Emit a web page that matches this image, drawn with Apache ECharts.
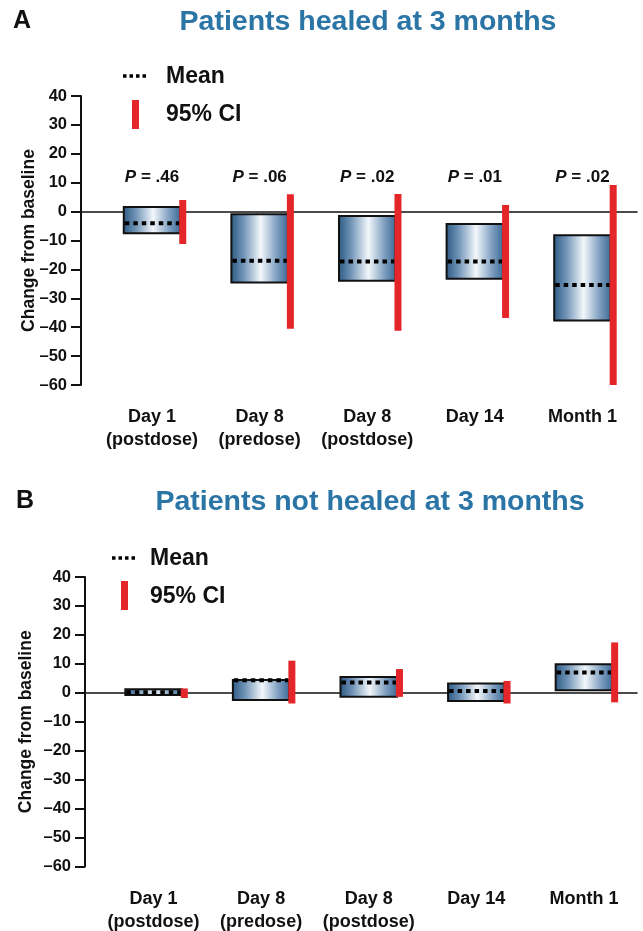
<!DOCTYPE html>
<html>
<head>
<meta charset="utf-8">
<script src="https://cdn.jsdelivr.net/npm/echarts@6/dist/echarts.min.js"></script>
<style>html,body{margin:0;padding:0;background:#fff}#c{width:643px;height:931px}</style>
</head>
<body>
<div id="c"></div>
<script>
// ---- data ----
const categories = ['Day 1\n(postdose)', 'Day 8\n(predose)', 'Day 8\n(postdose)', 'Day 14', 'Month 1'];
const yTicks = [-60, -50, -40, -30, -20, -10, 0, 10, 20, 30, 40];

// Panel A: patients healed at 3 months
const healedBoxHigh = [1.6, -0.9, -1.5, -4.3, -8.2];
const healedBoxLow  = [-7.5, -24.5, -23.9, -23.2, -37.7];
const healedMean    = [-4.0, -17.0, -17.3, -17.3, -25.4];
const healedCiHigh  = [4.0, 6.0, 6.1, 2.3, 9.2];
const healedCiLow   = [-11.2, -40.5, -41.2, -36.8, -60.0];
const healedP       = ['.46', '.06', '.02', '.01', '.02'];

// Panel B: patients not healed at 3 months
const notHealedBoxHigh = [1.2, 4.4, 5.5, 3.2, 9.9];
const notHealedBoxLow  = [-0.8, -2.5, -1.4, -2.8, 0.9];
const notHealedMean    = [0.2, 4.3, 3.6, 0.6, 7.0];
const notHealedCiHigh  = [1.5, 11.1, 8.2, 4.1, 17.4];
const notHealedCiLow   = [-1.8, -3.7, -1.4, -3.7, -3.3];

// ---- styling ----
const FONT = "'Liberation Sans', Arial, Helvetica, sans-serif";
const BLUE_TITLE = '#2a74a6';
const RED = '#e42529';
const INK = '#111';

function buildData(hi, lo, mean, ch, cl) {
  return categories.map((c, i) => [i, hi[i], lo[i], mean[i], ch[i], cl[i]]);
}

function boxGradient() {
  return new echarts.graphic.LinearGradient(0, 0, 1, 0, [
    { offset: 0, color: '#2b5882' },
    { offset: 0.22, color: '#6f93b6' },
    { offset: 0.52, color: '#f3f7fb' },
    { offset: 0.8, color: '#7c9dbf' },
    { offset: 1, color: '#3a6792' }
  ]);
}

function makeRenderItem(pLabels) {
  return function (params, api) {
    const i = api.value(0);
    const hi = api.coord([i, api.value(1)]);
    const lo = api.coord([i, api.value(2)]);
    const mn = api.coord([i, api.value(3)]);
    const ch = api.coord([i, api.value(4)]);
    const cl = api.coord([i, api.value(5)]);
    const zero = api.coord([i, 0]);
    const p = pLabels ? pLabels[params.dataIndex] : '';
    const band = api.size([1, 0])[0];
    const w = band * 0.525;
    const x0 = hi[0] - w / 2;
    const children = [
      {
        type: 'rect',
        shape: { x: x0, y: hi[1], width: w, height: Math.max(lo[1] - hi[1], 1) },
        style: { fill: boxGradient(), stroke: INK, lineWidth: 2 }
      },
      {
        type: 'line',
        shape: { x1: x0 + 1, y1: mn[1], x2: x0 + w - 1, y2: mn[1] },
        style: { stroke: '#000', lineWidth: 4, lineDash: [4.5, 4] }
      },
      {
        type: 'rect',
        shape: { x: x0 + w - 1, y: ch[1], width: 7, height: cl[1] - ch[1] },
        style: { fill: RED }
      }
    ];
    if (p) {
      children.push({
        type: 'text',
        x: hi[0], y: zero[1] - 34,
        style: {
          text: '{i|P} = ' + p,
          align: 'center', verticalAlign: 'middle',
          fontFamily: FONT, fontWeight: 'bold', fontSize: 17, fill: INK,
          rich: { i: { fontStyle: 'italic', fontWeight: 'bold', fontSize: 17, fontFamily: FONT, fill: INK } }
        }
      });
    }
    return { type: 'group', children };
  };
}

function yAxisCfg(gridIndex, nameGap, nameSize) {
  return {
    type: 'value', gridIndex, min: -60, max: 40, interval: 10,
    name: 'Change from baseline', nameLocation: 'middle', nameGap,
    nameMoveOverlap: false,
    nameTextStyle: { fontFamily: FONT, fontWeight: 'bold', fontSize: nameSize, color: INK },
    axisLine: { show: true, onZero: false, lineStyle: { color: INK, width: 2 } },
    axisTick: { show: true, length: 10, lineStyle: { color: INK, width: 2 } },
    axisLabel: {
      margin: 14, fontFamily: FONT, fontWeight: 'bold', fontSize: 16.5, color: INK,
      customValues: yTicks,
      formatter: v => (v < 0 ? '\u2013' + (-v) : String(v))
    },
    splitLine: { show: false }
  };
}

function xAxisLine(gridIndex, min, max) {
  return {
    type: 'value', gridIndex, min, max, position: 'bottom',
    axisLine: { show: true, onZero: true, lineStyle: { color: INK, width: 1.5 } },
    axisTick: { show: false }, axisLabel: { show: false }, splitLine: { show: false }
  };
}
function xAxisLabels(gridIndex, min, max) {
  return {
    type: 'value', gridIndex, min, max, position: 'bottom',
    axisLine: { show: false, onZero: false }, axisTick: { show: false }, splitLine: { show: false },
    axisLabel: {
      show: true, margin: 21, customValues: [0, 1, 2, 3, 4],
      fontFamily: FONT, fontWeight: 'bold', fontSize: 18, lineHeight: 23, color: INK,
      formatter: v => categories[Math.round(v)] || ''
    }
  };
}

function legend(dotX, dotY, textX, barX, barY, ciY) {
  return [
    { type: 'line', shape: { x1: dotX, y1: dotY, x2: dotX + 24, y2: dotY },
      style: { stroke: '#000', lineWidth: 3.5, lineDash: [3.5, 3] } },
    { type: 'text', x: textX, y: dotY + 1,
      style: { text: 'Mean', fontFamily: FONT, fontWeight: 'bold', fontSize: 23, fill: INK, verticalAlign: 'middle' } },
    { type: 'rect', shape: { x: barX, y: barY, width: 7, height: 29 }, style: { fill: RED } },
    { type: 'text', x: textX, y: ciY,
      style: { text: '95% CI', fontFamily: FONT, fontWeight: 'bold', fontSize: 23, fill: INK, verticalAlign: 'middle' } }
  ];
}

const chart = echarts.init(document.getElementById('c'), null, { renderer: 'canvas' });
chart.setOption({
  animation: false,
  backgroundColor: '#fff',
  grid: [
    { left: 81, top: 96, width: 556, height: 289, outerBoundsMode: 'none' },
    { left: 85, top: 577, width: 552, height: 289.5, outerBoundsMode: 'none' }
  ],
  xAxis: [
    xAxisLine(0, -0.66, 4.507),
    xAxisLabels(0, -0.66, 4.507),
    xAxisLine(1, -0.637, 4.4935),
    xAxisLabels(1, -0.637, 4.4935)
  ],
  yAxis: [yAxisCfg(0, 43, 17.5), yAxisCfg(1, 50, 17.5)],
  series: [
    {
      type: 'custom', name: 'Healed', xAxisIndex: 0, yAxisIndex: 0,
      renderItem: makeRenderItem(healedP), clip: false,
      encode: { x: 0, y: [1, 2, 3, 4, 5] },
      data: buildData(healedBoxHigh, healedBoxLow, healedMean, healedCiHigh, healedCiLow)
    },
    {
      type: 'custom', name: 'Not healed', xAxisIndex: 2, yAxisIndex: 1,
      renderItem: makeRenderItem(null), clip: false,
      encode: { x: 0, y: [1, 2, 3, 4, 5] },
      data: buildData(notHealedBoxHigh, notHealedBoxLow, notHealedMean, notHealedCiHigh, notHealedCiLow)
    }
  ],
  graphic: [
    { type: 'text', x: 13, y: 21, style: { text: 'A', fontFamily: FONT, fontWeight: 'bold', fontSize: 25, fill: INK, verticalAlign: 'middle' } },
    { type: 'text', x: 368, y: 22, style: { text: 'Patients healed at 3 months', fontFamily: FONT, fontWeight: 'bold', fontSize: 28.5, fill: BLUE_TITLE, align: 'center', verticalAlign: 'middle' } },
    { type: 'text', x: 16, y: 501, style: { text: 'B', fontFamily: FONT, fontWeight: 'bold', fontSize: 25, fill: INK, verticalAlign: 'middle' } },
    { type: 'text', x: 370, y: 502, style: { text: 'Patients not healed at 3 months', fontFamily: FONT, fontWeight: 'bold', fontSize: 28.5, fill: BLUE_TITLE, align: 'center', verticalAlign: 'middle' } },
    ...legend(123, 76, 166, 132, 100, 115),
    ...legend(112, 558, 150, 121, 581, 597)
  ]
});
</script>
</body>
</html>
